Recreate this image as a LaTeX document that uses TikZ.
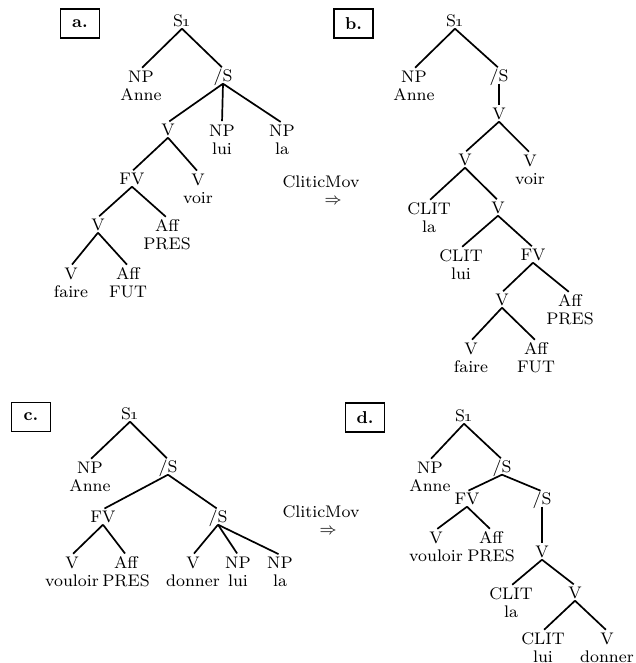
\documentclass[tikz,border=0pt]{standalone}
\usepackage{tikz}
\usetikzlibrary{positioning}
\tikzset{
  cat/.style={inner sep=0.8pt,text height=5.7pt,text depth=0pt},
  leaf/.style={anchor=north,align=center,inner sep=0.8pt,yshift=3.6pt},
  edge/.style={line width=0.85pt,shorten >=0.8pt},
  movlab/.style={inner sep=0.5pt},
  lbox/.style={draw,line width=0.95pt,minimum width=19.5pt,minimum height=14.5pt,inner sep=0pt,font=\fontsize{8.6}{9}\selectfont\bfseries},
  every node/.style={font=\fontsize{8.4}{9}\selectfont}
}
\newcommand{\Sone}{S\kern-0.3pt\oldstylenums{1}}
\begin{document}
\begin{tikzpicture}[x=0.5pt,y=-0.5pt]
  \useasboundingbox (0,0) rectangle (636,663);
  % labels of the four trees
  \node[lbox] (lab-a) at (80,23.5) {a.};
  \node[lbox] (lab-b) at (353.5,23.5) {b.};
  \node[lbox] (lab-c) at (31,417) {c.};
  \node[lbox] (lab-d) at (365,417.5) {d.};
  % tree a
  \node[cat] (a-s1) at (182,21) {\Sone};
  \node[leaf] (a-np) at (141,76) {NP\\Anne};
  \node[cat] (a-bs) at (223,76) {/S};
  \node[cat] (a-v) at (168,130) {V};
  \node[leaf] (a-lui) at (222,130) {NP\\lui};
  \node[leaf] (a-la) at (282,130) {NP\\la};
  \node[cat] (a-fv) at (132,179) {FV};
  \node[leaf] (a-voir) at (198,179) {V\\voir};
  \node[cat] (a-vf) at (98,225) {V};
  \node[leaf] (a-pres) at (167,225) {Aff\\PRES};
  \node[leaf] (a-faire) at (71,273) {V\\faire};
  \node[leaf] (a-fut) at (128,273) {Aff\\FUT};
  % tree b
  \node[cat] (b-s1) at (455,21) {\Sone};
  \node[leaf] (b-np) at (414,76) {NP\\Anne};
  \node[cat] (b-bs) at (499,76) {/S};
  \node[cat] (b-v) at (499,114) {V};
  \node[cat] (b-vv) at (465,160) {V};
  \node[leaf] (b-voir) at (530,160) {V\\voir};
  \node[leaf] (b-cla) at (429,208) {CLIT\\la};
  \node[cat] (b-v2) at (498,208) {V};
  \node[leaf] (b-clui) at (461,255) {CLIT\\lui};
  \node[cat] (b-fv) at (533,255) {FV};
  \node[cat] (b-vf) at (502,300) {V};
  \node[leaf] (b-pres) at (570,300) {Aff\\PRES};
  \node[leaf] (b-faire) at (471,348) {V\\faire};
  \node[leaf] (b-fut) at (536,348) {Aff\\FUT};
  % tree c
  \node[cat] (c-s1) at (130,414) {\Sone};
  \node[leaf] (c-np) at (90,467) {NP\\Anne};
  \node[cat] (c-bs) at (168,467) {/S};
  \node[cat] (c-fv) at (103,517) {FV};
  \node[cat] (c-bs2) at (218,517) {/S};
  \node[leaf] (c-vouloir) at (72,562) {V\\vouloir};
  \node[leaf] (c-pres) at (126,562) {Aff\\PRES};
  \node[leaf] (c-donner) at (193,562) {V\\donner};
  \node[leaf] (c-lui) at (238,562) {NP\\lui};
  \node[leaf] (c-la) at (280,562) {NP\\la};
  % tree d
  \node[cat] (d-s1) at (464,416) {\Sone};
  \node[leaf] (d-np) at (430,467) {NP\\Anne};
  \node[cat] (d-bs) at (502,467) {/S};
  \node[cat] (d-fv) at (467,499) {FV};
  \node[cat] (d-bs2) at (542,499) {/S};
  \node[leaf] (d-vouloir) at (436,537) {V\\vouloir};
  \node[leaf] (d-pres) at (491,537) {Aff\\PRES};
  \node[cat] (d-v) at (542,552) {V};
  \node[leaf] (d-cla) at (511,593) {CLIT\\la};
  \node[cat] (d-v2) at (575,593) {V};
  \node[leaf] (d-clui) at (543,638) {CLIT\\lui};
  \node[leaf] (d-donner) at (607,638) {V\\donner};
  % the two movements
  \node[movlab] (mov-ab) at (321,182) {CliticMov};
  \node[movlab] (arr-ab) at (333,201) {$\Rightarrow$};
  \node[movlab] (mov-cd) at (321,512) {CliticMov};
  \node[movlab] (arr-cd) at (328,531) {$\Rightarrow$};
  % branches
  \foreach \p/\c in {a-s1/a-np,a-s1/a-bs,a-bs/a-v,a-bs/a-lui,a-bs/a-la,a-v/a-fv,a-v/a-voir,
      a-fv/a-vf,a-fv/a-pres,a-vf/a-faire,a-vf/a-fut,
      b-s1/b-np,b-s1/b-bs,b-bs/b-v,b-v/b-vv,b-v/b-voir,b-vv/b-cla,b-vv/b-v2,b-v2/b-clui,
      b-v2/b-fv,b-fv/b-vf,b-fv/b-pres,b-vf/b-faire,b-vf/b-fut,
      c-s1/c-np,c-s1/c-bs,c-bs/c-fv,c-bs/c-bs2,c-fv/c-vouloir,c-fv/c-pres,c-bs2/c-donner,
      c-bs2/c-lui,c-bs2/c-la,
      d-s1/d-np,d-s1/d-bs,d-bs/d-fv,d-bs/d-bs2,d-fv/d-vouloir,d-fv/d-pres,d-bs2/d-v,
      d-v/d-cla,d-v/d-v2,d-v2/d-clui,d-v2/d-donner}
    \draw[edge] (\p.south) -- (\c.north);
\end{tikzpicture}
\end{document}
